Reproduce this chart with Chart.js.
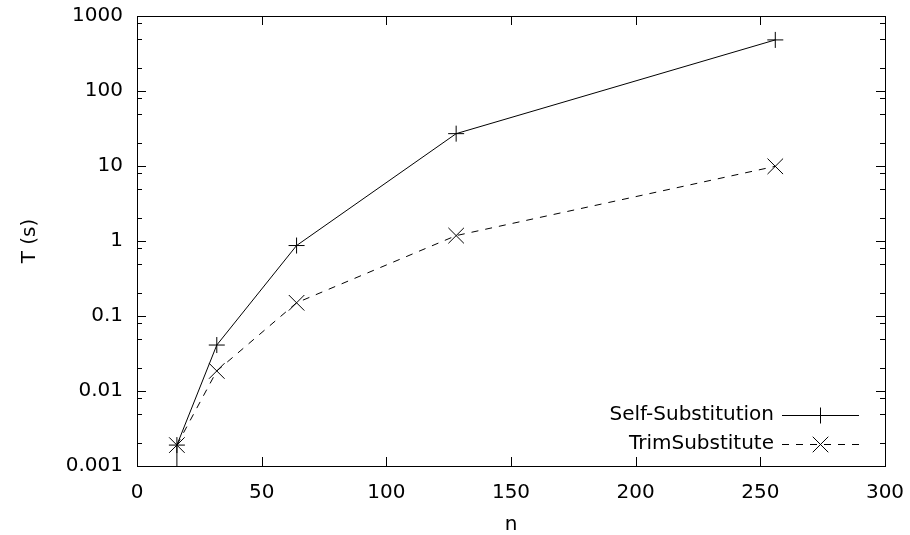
<!DOCTYPE html>
<html>
<head>
<meta charset="utf-8">
<script src="https://cdn.jsdelivr.net/npm/chart.js@4.4.1/dist/chart.umd.min.js"></script>
<style>
    html, body { margin: 0; padding: 0; background: #fff; }
    #wrap { width: 910px; height: 535px; }
</style>
</head>
<body>
<div id="wrap"><canvas id="chart" width="910" height="535"></canvas></div>
<script>
// Data
const selfSubN = [16, 16, 32, 64, 128, 256];
const selfSubT = [0.0003, 0.0019, 0.041, 0.87, 27, 480]; // first point sits below the axis (clipped)
const trimN = [16, 32, 64, 128, 256];
const trimT = [0.0019, 0.0185, 0.15, 1.18, 9.9];

const xTicks = [0, 50, 100, 150, 200, 250, 300];
const yTicks = [0.001, 0.01, 0.1, 1, 10, 100, 1000];
const yTickLabels = ['0.001', '0.01', '0.1', '1', '10', '100', '1000'];
const yMinorSteps = [2, 5, 8];

const FONT = 'DejaVu Sans';
const FONT_SIZE = 20;

function toPoints(xs, ys) {
    return xs.map((x, i) => ({ x: x, y: ys[i] }));
}

// Frame, inward mirrored ticks and gnuplot-like key
const framePlugin = {
    id: 'frame',
    afterDraw(chart) {
        const ctx = chart.ctx;
        const area = chart.chartArea;
        const xs = chart.scales.x;
        const ys = chart.scales.y;
        ctx.save();
        ctx.strokeStyle = '#000';
        ctx.lineWidth = 1;
        ctx.strokeRect(Math.round(area.left) + 0.5, Math.round(area.top) + 0.5,
            Math.round(area.right - area.left), Math.round(area.bottom - area.top));

        ctx.beginPath();
        const major = 9, minor = 5;
        xTicks.forEach(v => {
            const px = Math.round(xs.getPixelForValue(v)) + 0.5;
            ctx.moveTo(px, area.bottom); ctx.lineTo(px, area.bottom - major);
            ctx.moveTo(px, area.top); ctx.lineTo(px, area.top + major);
        });
        yTicks.forEach(v => {
            const py = Math.round(ys.getPixelForValue(v)) + 0.5;
            ctx.moveTo(area.left, py); ctx.lineTo(area.left + major, py);
            ctx.moveTo(area.right, py); ctx.lineTo(area.right - major, py);
            if (v < 1000) {
                yMinorSteps.forEach(m => {
                    const pm = Math.round(ys.getPixelForValue(v * m)) + 0.5;
                    ctx.moveTo(area.left, pm); ctx.lineTo(area.left + minor, pm);
                    ctx.moveTo(area.right, pm); ctx.lineTo(area.right - minor, pm);
                });
            }
        });
        ctx.stroke();

        // key
        const textRight = area.right - 111;
        const lineL = area.right - 103;
        const lineR = area.right - 26;
        const mid = (lineL + lineR) / 2;
        const rows = [area.bottom - 51, area.bottom - 22];
        ctx.font = FONT_SIZE + 'px "' + FONT + '"';
        ctx.textAlign = 'right';
        ctx.textBaseline = 'middle';
        ctx.fillStyle = '#000';
        chart.data.datasets.forEach((ds, i) => {
            const y = rows[i];
            ctx.fillText(ds.label, textRight, y);
            ctx.setLineDash(ds.borderDash || []);
            ctx.beginPath();
            ctx.moveTo(lineL, y + 0.5);
            ctx.lineTo(lineR, y + 0.5);
            ctx.stroke();
            ctx.setLineDash([]);
            Chart.helpers.drawPoint(ctx, {
                pointStyle: ds.pointStyle,
                radius: ds.pointRadius,
                rotation: 0,
                borderWidth: 1
            }, mid, y + 0.5);
        });
        ctx.restore();
    }
};

new Chart(document.getElementById('chart'), {
    type: 'line',
    data: {
        datasets: [{
            label: 'Self-Substitution',
            data: toPoints(selfSubN, selfSubT),
            borderColor: '#000',
            borderWidth: 1,
            pointStyle: 'cross',
            pointRadius: 8,
            pointBorderColor: '#000',
            pointBorderWidth: 1,
            fill: false,
            tension: 0
        }, {
            label: 'TrimSubstitute',
            data: toPoints(trimN, trimT),
            borderColor: '#000',
            borderWidth: 1,
            borderDash: [7, 7],
            pointStyle: 'crossRot',
            pointRadius: 11,
            pointBorderColor: '#000',
            pointBorderWidth: 1,
            fill: false,
            tension: 0
        }]
    },
    options: {
        responsive: false,
        animation: false,
        devicePixelRatio: 1,
        layout: { padding: { top: 16, right: 25, left: 0, bottom: 0 } },
        plugins: {
            legend: { display: false },
            tooltip: { enabled: false }
        },
        elements: { point: { hoverRadius: 8 } },
        scales: {
            x: {
                type: 'linear',
                min: 0,
                max: 300,
                afterBuildTicks: s => { s.ticks = xTicks.map(v => ({ value: v })); },
                afterFit: s => { s.height = 69; s.paddingLeft = 0; s.paddingRight = 0; },
                grid: { display: false, drawTicks: false },
                border: { display: false },
                ticks: {
                    padding: 15,
                    color: '#000',
                    font: { family: FONT, size: FONT_SIZE },
                    maxRotation: 0,
                    autoSkip: false
                },
                title: {
                    display: true,
                    text: 'n',
                    color: '#000',
                    font: { family: FONT, size: FONT_SIZE },
                    padding: { top: 0, bottom: -2 }
                }
            },
            y: {
                type: 'logarithmic',
                min: 0.001,
                max: 1000,
                afterBuildTicks: s => { s.ticks = yTicks.map(v => ({ value: v })); },
                afterFit: s => { s.width = 137; s.paddingTop = 0; s.paddingBottom = 0; },
                grid: { display: false, drawTicks: false },
                border: { display: false },
                ticks: {
                    padding: 14,
                    color: '#000',
                    font: { family: FONT, size: FONT_SIZE },
                    autoSkip: false,
                    callback: (v, i) => yTickLabels[i]
                },
                title: {
                    display: true,
                    text: 'T (s)',
                    color: '#000',
                    font: { family: FONT, size: FONT_SIZE },
                    padding: { top: 18, bottom: 0 }
                }
            }
        }
    },
    plugins: [framePlugin]
});
</script>
</body>
</html>
